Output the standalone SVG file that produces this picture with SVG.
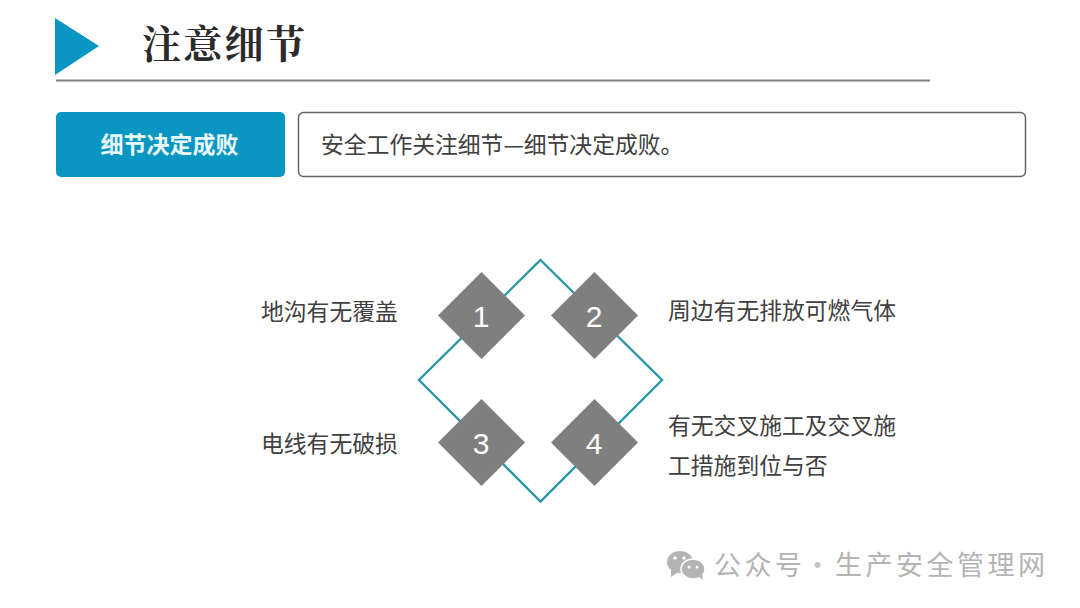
<svg xmlns="http://www.w3.org/2000/svg" width="1080" height="608" viewBox="0 0 1080 608">
<style>
.s{font-family:"Noto Sans CJK SC","Liberation Sans",sans-serif;fill:#404040;font-size:22.800px}
.n{font-family:"Liberation Sans",Arial,sans-serif;fill:#fff;font-size:30px;text-anchor:middle}
.d{fill:#7f7f7f}
.w{font-family:"Noto Sans CJK SC",sans-serif;fill:#b4b4b4;font-size:27px}
</style>
<rect width="1080" height="608" fill="#fff"/>
<g id="header">
<polygon points="55,18 99,46 55,75" fill="#0a96c2"/>
<text x="142" y="58" font-size="39" font-weight="700" fill="#2b2b2b" style="font-family:'Noto Serif CJK SC','Noto Sans CJK SC',serif" letter-spacing="2.300">注意细节</text>
<line x1="56" y1="80.500" x2="930" y2="80.500" stroke="#7f7f7f" stroke-width="2.200"/>
</g>
<g id="tag">
<rect x="56" y="112" width="229" height="65" rx="5" fill="#0a96c2"/>
<text x="169.500" y="153" text-anchor="middle" font-size="23" font-weight="700" fill="#e8f8fb" style="font-family:'Noto Sans CJK SC',sans-serif">细节决定成败</text>
</g>
<g id="statement">
<rect x="298.500" y="112.500" width="727" height="64" rx="5" fill="#fff" stroke="#666" stroke-width="1.500"/>
<text x="321" y="153" class="s">安全工作关注细节—细节决定成败。</text>
</g>
<g id="connectors">
<polygon points="540.500,260 662,380 540.500,501.500 419,380" fill="none" stroke="#2b97a5" stroke-width="2.400"/>
</g>
<g id="node-1"><polygon class="d" points="481.500,272 525,315.500 481.500,359 438,315.500"/><text class="n" x="481" y="327">1</text></g>
<g id="node-2"><polygon class="d" points="594.500,272 638,315.500 594.500,359 551,315.500"/><text class="n" x="594" y="327">2</text></g>
<g id="node-3"><polygon class="d" points="481.500,399 525,442.500 481.500,486 438,442.500"/><text class="n" x="481" y="454">3</text></g>
<g id="node-4"><polygon class="d" points="594.500,399 638,442.500 594.500,486 551,442.500"/><text class="n" x="594" y="454">4</text></g>
<g id="label-1"><text class="s" x="261" y="320">地沟有无覆盖</text></g>
<g id="label-2"><text class="s" x="668" y="319">周边有无排放可燃气体</text></g>
<g id="label-3"><text class="s" x="261" y="452">电线有无破损</text></g>
<g id="label-4"><text class="s" x="668" y="434">有无交叉施工及交叉施</text><text class="s" x="668" y="474">工措施到位与否</text></g>
<g id="watermark">
<ellipse cx="680" cy="562" rx="13" ry="11" fill="#b4b4b4"/>
<polygon points="671,570 671,577 678,572" fill="#b4b4b4"/>
<ellipse cx="693" cy="569" rx="12" ry="10" fill="#b4b4b4" stroke="#fff" stroke-width="1.500"/>
<polygon points="698,576 703,580 702,572" fill="#b4b4b4"/>
<circle cx="675" cy="558" r="1.800" fill="#fff"/><circle cx="684" cy="558" r="1.800" fill="#fff"/>
<circle cx="689" cy="567" r="1.500" fill="#fff"/><circle cx="697" cy="567" r="1.500" fill="#fff"/>
<text class="w" x="714" y="575" letter-spacing="3.500">公众号<tspan x="804" fill="#c4c4c4">·</tspan><tspan x="835">生产安全管理网</tspan></text>
</g>
</svg>
